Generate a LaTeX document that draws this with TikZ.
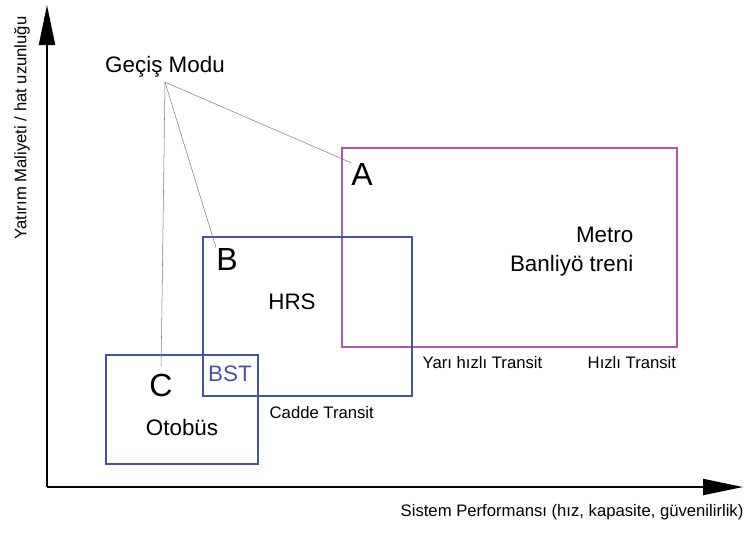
\documentclass[tikz,border=0pt]{standalone}
\usepackage{fontspec}
\setmainfont{Liberation Sans}
\usetikzlibrary{arrows.meta}
\definecolor{modeblue}{RGB}{72,82,165}
\definecolor{modepink}{RGB}{172,88,172}
\tikzset{
  modebox/.style={line width=1.6pt},
  axisline/.style={line width=1.5pt, -{Triangle[length=30pt,width=12pt]}},
  pointer/.style={gray, line width=0.4pt},
  bigletter/.style={font=\fontsize{24}{28}\selectfont, inner sep=0pt},
  modelabel/.style={font=\fontsize{16.8}{21.8}\selectfont},
  smalllabel/.style={font=\fontsize{12.5}{15}\selectfont},
}
\begin{document}
\begin{tikzpicture}[x=0.75pt, y=-0.75pt]
  \useasboundingbox (0,0) rectangle (753,532);
  % Axes
  \coordinate (origin) at (47,487);
  \coordinate (ytip) at (47,5);
  \coordinate (xtip) at (743,487);
  \draw[axisline] (origin) -- (ytip);
  \draw[axisline] (origin) -- (xtip);
  \node[smalllabel, rotate=90] (ylabel) at (22,128) {Yatırım Maliyeti / hat uzunluğu};
  \node[smalllabel, anchor=west] (xlabel) at (396,512) {Sistem Performansı (hız, kapasite, güvenilirlik)};
  % Mode boxes
  \draw[modebox, modepink] (342,148) rectangle (677,347);
  \draw[modebox, modeblue] (203,237) rectangle (412,396);
  \draw[modebox, modeblue] (106,355) rectangle (258,464);
  % Box letters
  \node[bigletter] (lblA) at (362,174) {A};
  \node[bigletter] (lblB) at (227,259) {B};
  \node[bigletter] (lblC) at (161,385) {C};
  % Mode names
  \node[modelabel, align=right, anchor=east] (metro) at (638,252) {Metro\\Banliyö treni};
  \node[modelabel] (hrs) at (292,302) {HRS};
  \node[modelabel, text=modeblue] (bst) at (230,374) {BST};
  \node[modelabel] (otobus) at (182,427) {Otobüs};
  % Transit classes
  \node[smalllabel, anchor=west] (cadde) at (265,413) {Cadde Transit};
  \node[smalllabel, anchor=west] (yarihizli) at (418,363) {Yarı hızlı Transit};
  \node[smalllabel, anchor=west] (hizli) at (583,363) {Hızlı Transit};
  % Geçiş modu pointers
  \node[modelabel] (mode) at (165,67) {Geçiş Modu};
  \draw[pointer] (mode.south) -- (lblA.north west);
  \draw[pointer] (mode.south) -- (lblB.north west);
  \draw[pointer, shorten >=5pt] (mode.south) -- (lblC.north);
\end{tikzpicture}
\end{document}
